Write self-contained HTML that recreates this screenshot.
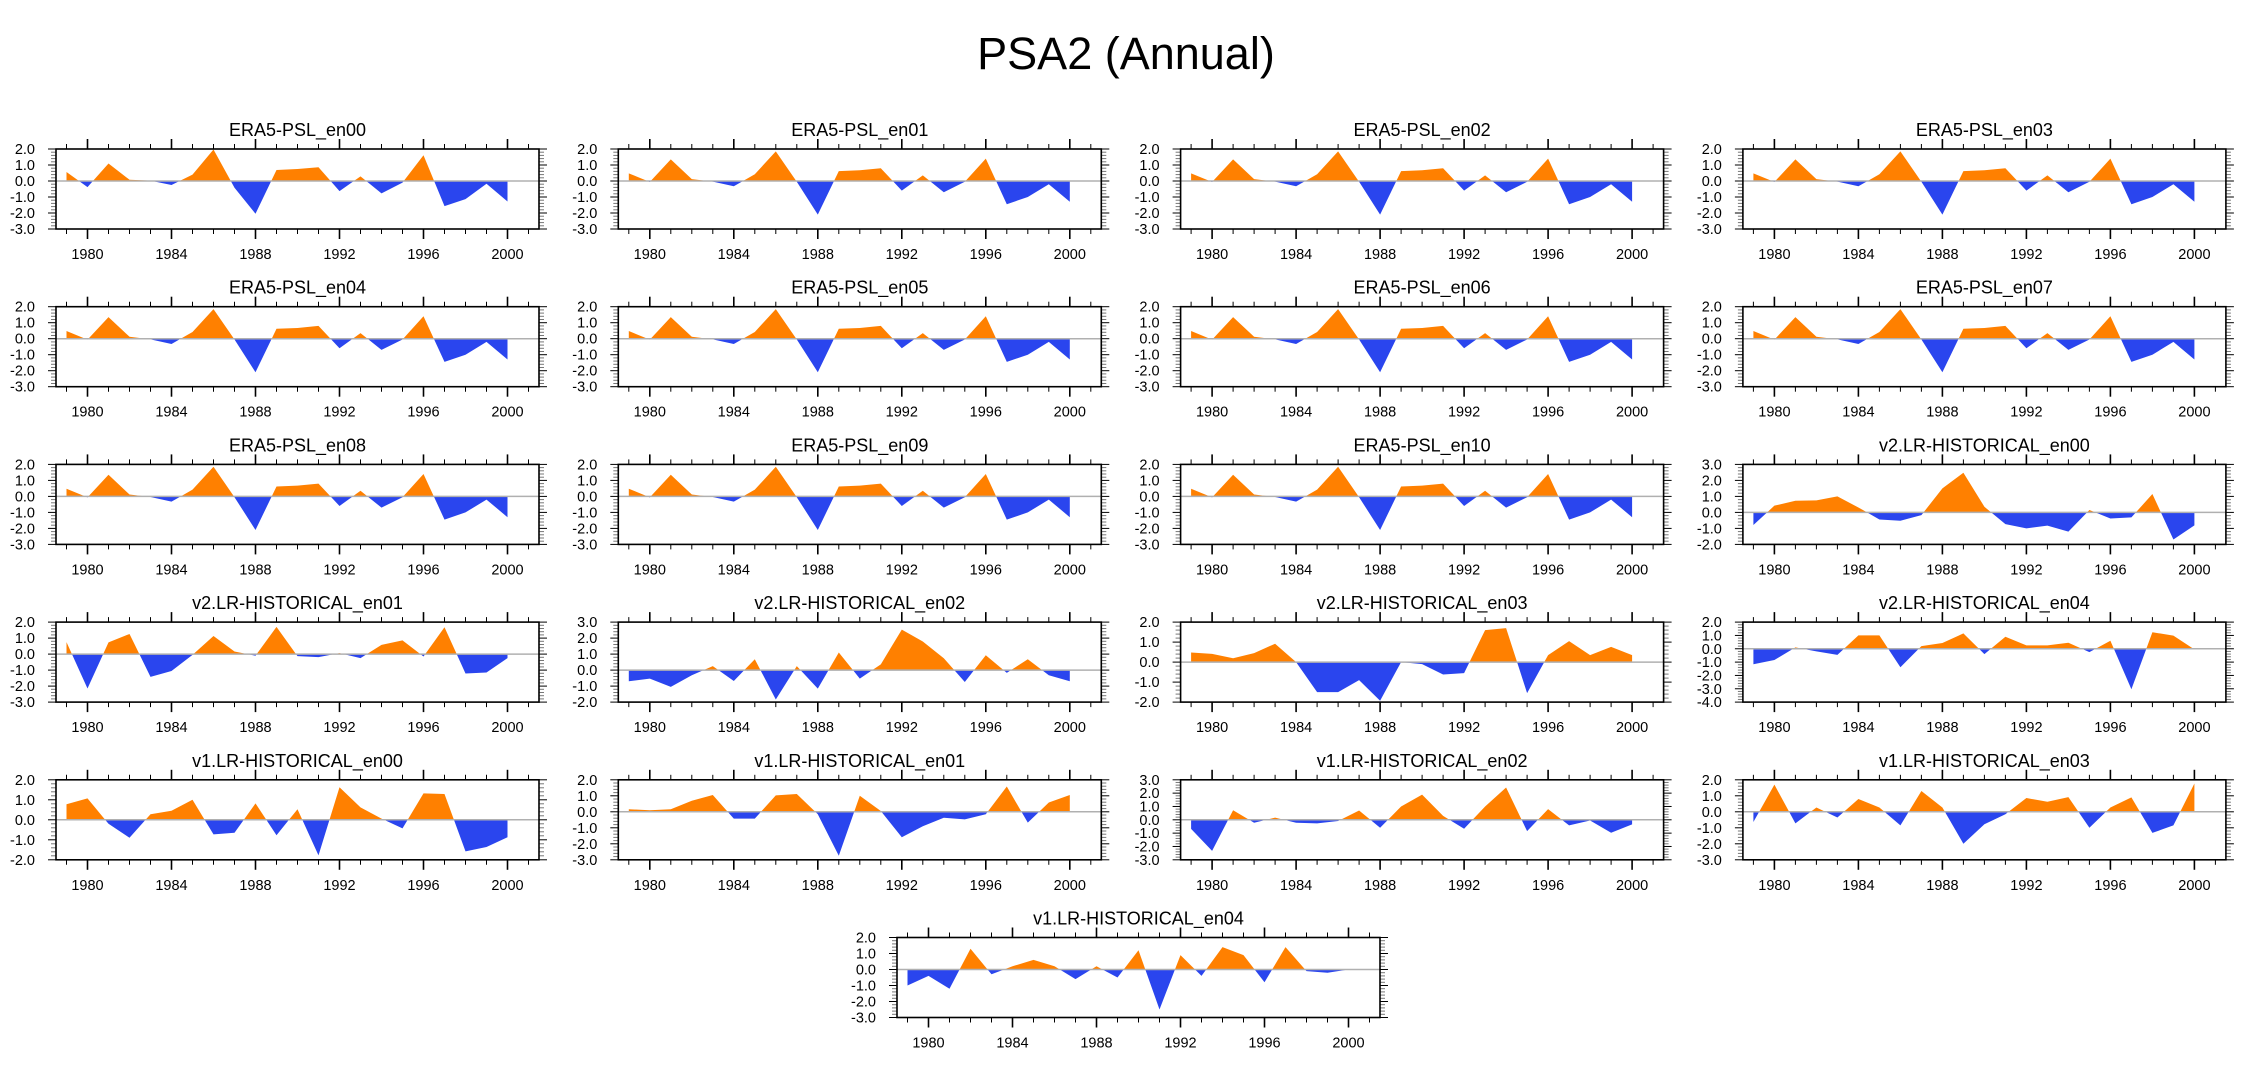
<!DOCTYPE html>
<html><head><meta charset="utf-8">
<style>
html,body{margin:0;padding:0;background:#fff;}
svg{display:block;font-family:"Liberation Sans",Arial,sans-serif;}
</style></head>
<body>
<svg id="chart" width="2252" height="1078" viewBox="0 0 2252 1078" xmlns="http://www.w3.org/2000/svg">
<rect width="2252" height="1078" fill="#fff"/>
<text x="1126" y="69" text-anchor="middle" font-size="45" fill="#000">PSA2 (Annual)</text>
<g id="panels"></g>
</svg>
<script>
const years = [1979,1980,1981,1982,1983,1984,1985,1986,1987,1988,1989,1990,1991,1992,1993,1994,1995,1996,1997,1998,1999,2000];
const xTicks = [1980,1984,1988,1992,1996,2000];
const titles = ["ERA5-PSL_en00","ERA5-PSL_en01","ERA5-PSL_en02","ERA5-PSL_en03","ERA5-PSL_en04","ERA5-PSL_en05","ERA5-PSL_en06","ERA5-PSL_en07","ERA5-PSL_en08","ERA5-PSL_en09","ERA5-PSL_en10","v2.LR-HISTORICAL_en00","v2.LR-HISTORICAL_en01","v2.LR-HISTORICAL_en02","v2.LR-HISTORICAL_en03","v2.LR-HISTORICAL_en04","v1.LR-HISTORICAL_en00","v1.LR-HISTORICAL_en01","v1.LR-HISTORICAL_en02","v1.LR-HISTORICAL_en03","v1.LR-HISTORICAL_en04"];
const yMins = [-3,-3,-3,-3,-3,-3,-3,-3,-3,-3,-3,-2,-3,-2,-2,-4,-2,-3,-3,-3,-3];
const yMaxs = [2,2,2,2,2,2,2,2,2,2,2,3,2,3,2,2,2,2,3,2,2];
const era5En00 = [0.56,-0.38,1.09,0.08,0.02,-0.25,0.4,1.97,-0.42,-2.05,0.69,0.75,0.86,-0.63,0.29,-0.77,-0.1,1.61,-1.57,-1.13,-0.17,-1.28];
const era5Ens = [0.48,-0.06,1.35,0.12,-0.04,-0.33,0.42,1.85,-0.05,-2.1,0.62,0.67,0.8,-0.6,0.35,-0.7,-0.05,1.4,-1.45,-1.0,-0.2,-1.3];
const v2En00 = [-0.79,0.42,0.73,0.75,1.0,0.31,-0.44,-0.52,-0.17,1.5,2.48,0.35,-0.73,-1.0,-0.83,-1.2,0.15,-0.38,-0.31,1.15,-1.69,-0.81];
const v2En01 = [0.75,-2.15,0.73,1.26,-1.42,-1.06,-0.05,1.13,0.16,-0.1,1.7,-0.13,-0.19,0.06,-0.25,0.58,0.86,-0.15,1.68,-1.21,-1.15,-0.25];
const v2En02 = [-0.7,-0.53,-1.05,-0.32,0.25,-0.68,0.68,-1.84,0.25,-1.16,1.1,-0.53,0.36,2.53,1.79,0.74,-0.74,0.93,-0.17,0.68,-0.32,-0.7];
const v2En03 = [0.48,0.41,0.19,0.45,0.92,0.0,-1.5,-1.5,-0.9,-1.93,0.0,-0.1,-0.62,-0.55,1.6,1.7,-1.55,0.35,1.05,0.35,0.76,0.35];
const v2En04 = [-1.16,-0.84,0.1,-0.2,-0.46,1.0,1.0,-1.39,0.2,0.43,1.15,-0.4,0.9,0.25,0.25,0.45,-0.25,0.6,-3.04,1.24,0.99,-0.05];
const v1En00 = [0.78,1.07,-0.2,-0.9,0.28,0.45,1.0,-0.73,-0.65,0.82,-0.77,0.53,-1.78,1.63,0.62,0.06,-0.43,1.32,1.29,-1.58,-1.36,-0.87];
const v1En01 = [0.16,0.1,0.16,0.69,1.05,-0.43,-0.43,1.03,1.11,-0.15,-2.75,1.0,0.05,-1.59,-0.9,-0.37,-0.47,-0.15,1.58,-0.68,0.58,1.05];
const v1En02 = [-0.68,-2.33,0.72,-0.22,0.16,-0.22,-0.27,-0.09,0.7,-0.6,1.0,1.89,0.29,-0.67,1.0,2.42,-0.85,0.8,-0.42,-0.05,-0.97,-0.34];
const v1En03 = [-0.64,1.7,-0.72,0.27,-0.36,0.8,0.27,-0.85,1.3,0.27,-2.0,-0.78,-0.15,0.86,0.63,0.92,-1.0,0.27,0.9,-1.32,-0.85,1.77];
const v1En04 = [-1.0,-0.4,-1.2,1.3,-0.3,0.2,0.6,0.2,-0.6,0.2,-0.5,1.2,-2.5,0.9,-0.4,1.4,0.9,-0.8,1.4,-0.1,-0.2,0.0];
const series = [era5En00,era5Ens,era5Ens,era5Ens,era5Ens,era5Ens,era5Ens,era5Ens,era5Ens,era5Ens,era5Ens,v2En00,v2En01,v2En02,v2En03,v2En04,v1En00,v1En01,v1En02,v1En03,v1En04];

const NS = "http://www.w3.org/2000/svg";
const root = document.getElementById("panels");
const PW = 483, PH = 80, X0 = 1978.5, X1 = 2001.5;
function mk(tag, attrs, parent){ const e=document.createElementNS(NS,tag); for(const k in attrs) e.setAttribute(k,attrs[k]); parent.appendChild(e); return e; }

titles.forEach((title, p) => {
  let left, top;
  if (p < 20) { left = 56 + (p % 4) * 562.3; top = 149 + Math.floor(p / 4) * 157.7; }
  else { left = 897; top = 149 + 5 * 157.7; }
  const ymin = yMins[p], ymax = yMaxs[p], vals = series[p];
  const sx = v => left + (v - X0) / (X1 - X0) * PW;
  const sy = v => top + (ymax - v) / (ymax - ymin) * PH;
  const g = mk("g", {}, root);
  
  
  const t = mk("text", {x: left + PW/2, y: top - 13, "text-anchor":"middle", "font-size":"18", fill:"#000"}, g);
  t.textContent = title;
  
  
  const cid = "c" + p;
  const defs = mk("defs", {}, g);
  const ca = mk("clipPath", {id: cid + "a"}, defs);
  mk("rect", {x:left, y:top, width:PW, height: sy(0)-top}, ca);
  const cb = mk("clipPath", {id: cid + "b"}, defs);
  mk("rect", {x:left, y:sy(0), width:PW, height: top+PH-sy(0)}, cb);
  let d = "M" + sx(years[0]) + "," + sy(0);
  years.forEach((yr, i) => { d += " L" + sx(yr) + "," + sy(vals[i]); });
  d += " L" + sx(years[years.length-1]) + "," + sy(0) + " Z";
  const pos = mk("path", {d: d, fill:"#ff8000", "clip-path":"url(#"+cid+"a)"}, g);
  
  
  const neg = mk("path", {d: d, fill:"#2a45ee", "clip-path":"url(#"+cid+"b)"}, g);
  
  
  const zl = mk("line", {x1:left, x2:left+PW, y1:sy(0), y2:sy(0), stroke:"#b0b0b0", "stroke-width":"1.5"}, g);
  
  
  for (let yr = 1979; yr <= 2001; yr++) {
    const major = xTicks.includes(yr);
    const L = major ? 10 : 5;
    mk("line", {x1:sx(yr), x2:sx(yr), y1:top, y2:top-L, stroke:"#000", "stroke-width": major?1.6:1}, g);
    mk("line", {x1:sx(yr), x2:sx(yr), y1:top+PH, y2:top+PH+L, stroke:"#000", "stroke-width": major?1.6:1}, g);
  }
  xTicks.forEach(yr => {
    const xl = mk("text", {x:sx(yr), y:top+PH+30, "text-anchor":"middle", "font-size":"14.5", fill:"#000"}, g);
    xl.textContent = yr;
    
    
  });
  for (let k = Math.round(ymin*5); k <= Math.round(ymax*5); k++) {
    const v = k / 5, major = (k % 5 === 0);
    const L = major ? 8 : 5;
    mk("line", {x1:left, x2:left-L, y1:sy(v), y2:sy(v), stroke: major?"#000":"#777", "stroke-width":"1"}, g);
    mk("line", {x1:left+PW, x2:left+PW+L, y1:sy(v), y2:sy(v), stroke: major?"#000":"#777", "stroke-width":"1"}, g);
  }
  for (let v = ymin; v <= ymax; v++) {
    const yl = mk("text", {x:left-21, y:sy(v)+5, "text-anchor":"end", "font-size":"14.5", fill:"#000"}, g);
    yl.textContent = v.toFixed(1);
    
    
  }
  const box = mk("rect", {x:left, y:top, width:PW, height:PH, fill:"none", stroke:"#000", "stroke-width":"1.6"}, g);
  
  
});
</script>
</body></html>
